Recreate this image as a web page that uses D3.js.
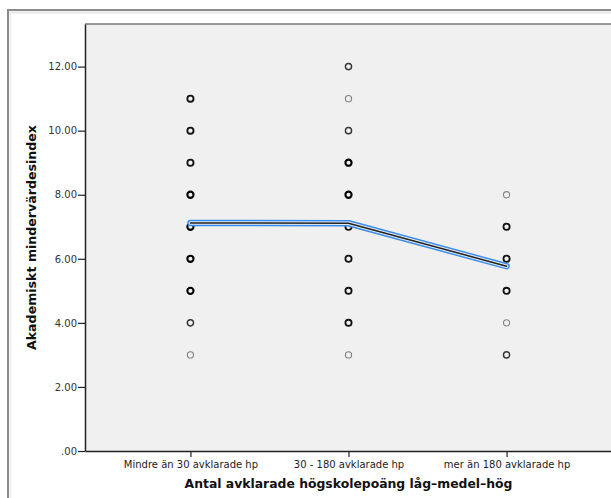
<!DOCTYPE html>
<html><head><meta charset="utf-8">
<script src="https://cdn.jsdelivr.net/npm/d3@7"></script>
<style>
html,body{margin:0;padding:0;background:#fff;overflow:hidden}
svg{display:block}
text{font-family:"DejaVu Sans",sans-serif}
</style></head><body>
<script>
// ---- data ----
const categories = ["Mindre än 30 avklarade hp", "30 - 180 avklarade hp", "mer än 180 avklarade hp"];
const yTicks = [0, 2, 4, 6, 8, 10, 12];
const yTickLabels = [".00", "2.00", "4.00", "6.00", "8.00", "10.00", "12.00"];
// observed index values per group and an estimated overlap weight (1 = single case, 4 = many)
const group1Values = [3, 4, 5, 6, 7, 8, 9, 10, 11];
const group1Weights = [1, 2, 4, 4, 4, 4, 3, 3, 3];
const group2Values = [3, 4, 5, 6, 7, 8, 9, 10, 11, 12];
const group2Weights = [1, 3, 3, 3, 3, 4, 4, 2, 1, 2];
const group3Values = [3, 4, 5, 6, 7, 8];
const group3Weights = [2, 1, 3, 3, 3, 1];
const groupMeans = [7.12, 7.11, 5.77];
const xTitle = "Antal avklarade högskolepoäng låg–medel–hög";
const yTitle = "Akademiskt mindervärdesindex";

const W = 611, H = 498, SW = 640;
const plot = {left: 85, top: 24, right: 612, bottom: 451};

const svg = d3.select("body").append("svg").attr("width", SW).attr("height", H);

// outer chart frame (left and top edges visible)
svg.append("line").attr("x1", 8).attr("x2", SW).attr("y1", 10).attr("y2", 10)
  .attr("stroke", "#8a8a8a").attr("stroke-width", 2);
svg.append("line").attr("x1", 8).attr("x2", 8).attr("y1", 9).attr("y2", H + 5)
  .attr("stroke", "#8a8a8a").attr("stroke-width", 2);
svg.append("line").attr("x1", 9).attr("x2", SW).attr("y1", 12.5).attr("y2", 12.5)
  .attr("stroke", "#e6e6e6").attr("stroke-width", 2);
svg.append("line").attr("x1", 10.5).attr("x2", 10.5).attr("y1", 12).attr("y2", H + 5)
  .attr("stroke", "#ececec").attr("stroke-width", 1.5);

// plot background
svg.append("rect").attr("x", plot.left).attr("y", plot.top)
  .attr("width", SW - plot.left).attr("height", plot.bottom - plot.top)
  .attr("fill", "#f0f0f0");
svg.append("line").attr("x1", plot.left).attr("x2", SW).attr("y1", plot.top).attr("y2", plot.top)
  .attr("stroke", "#7a7a7a").attr("stroke-width", 1.5);

const x = d3.scalePoint().domain(categories).range([plot.left, plot.right]).padding(0.667);
const y = d3.scaleLinear().domain([0, 13.33]).range([plot.bottom, plot.top]);

// axes
const yAxis = d3.axisLeft(y).tickValues(yTicks).tickSize(7).tickSizeOuter(0).tickPadding(1)
  .tickFormat((d, i) => yTickLabels[i]);
const gy = svg.append("g").attr("transform", `translate(${plot.left},0)`).call(yAxis);
gy.select(".domain").attr("stroke", "#222").attr("stroke-width", 1.5);
gy.selectAll(".tick line").attr("stroke", "#222").attr("stroke-width", 1.2);
gy.selectAll(".tick text").attr("font-size", 10).attr("fill", "#333");

const xAxis = d3.axisBottom(x).tickSize(6).tickSizeOuter(0).tickPadding(2);
const gx = svg.append("g").attr("transform", `translate(0,${plot.bottom})`).call(xAxis);
gx.select(".domain").attr("stroke", "#222").attr("stroke-width", 1.5);
gx.selectAll(".tick line").attr("stroke", "#222").attr("stroke-width", 1.2);
gx.selectAll(".tick text").attr("font-size", 10).attr("fill", "#222").attr("dy", "0.85em");

// titles
svg.append("text").attr("x", (plot.left + plot.right) / 2).attr("y", 488)
  .attr("text-anchor", "middle").attr("font-size", 12.4).attr("font-weight", "bold")
  .attr("fill", "#111").text(xTitle);
svg.append("text").attr("transform", `translate(36,${(plot.top + plot.bottom) / 2}) rotate(-90)`)
  .attr("text-anchor", "middle").attr("font-size", 12.6).attr("font-weight", "bold")
  .attr("fill", "#111").text(yTitle);

// points
const groups = [
  {cat: categories[0], vals: group1Values, w: group1Weights},
  {cat: categories[1], vals: group2Values, w: group2Weights},
  {cat: categories[2], vals: group3Values, w: group3Weights}
];
const pts = groups.flatMap(g => g.vals.map((v, i) => ({cat: g.cat, v, w: g.w[i]})));
const strokeCol = {1: "#808080", 2: "#333", 3: "#111", 4: "#000"};
const strokeW = {1: 1.1, 2: 1.4, 3: 1.8, 4: 2.1};
svg.append("g").selectAll("circle").data(pts).join("circle")
  .attr("cx", d => x(d.cat)).attr("cy", d => y(d.v)).attr("r", 3.1)
  .attr("fill", "none").attr("stroke", d => strokeCol[d.w]).attr("stroke-width", d => strokeW[d.w]);

// mean line with selection highlight
const meanData = categories.map((c, i) => ({cat: c, m: groupMeans[i]}));
const line = d3.line().x(d => x(d.cat)).y(d => y(d.m));
const ml = svg.append("g");
ml.append("path").attr("d", line(meanData)).attr("fill", "none")
  .attr("stroke", "#3b8ded").attr("stroke-width", 6.5).attr("stroke-linejoin", "round").attr("stroke-linecap", "round");
ml.append("path").attr("d", line(meanData)).attr("fill", "none")
  .attr("stroke", "#e2e9f2").attr("stroke-width", 3.6).attr("stroke-linejoin", "round").attr("stroke-linecap", "round");
ml.append("path").attr("d", line(meanData)).attr("fill", "none")
  .attr("stroke", "#222").attr("stroke-width", 1.5).attr("stroke-linejoin", "round").attr("stroke-linecap", "round");
</script>
</body></html>
